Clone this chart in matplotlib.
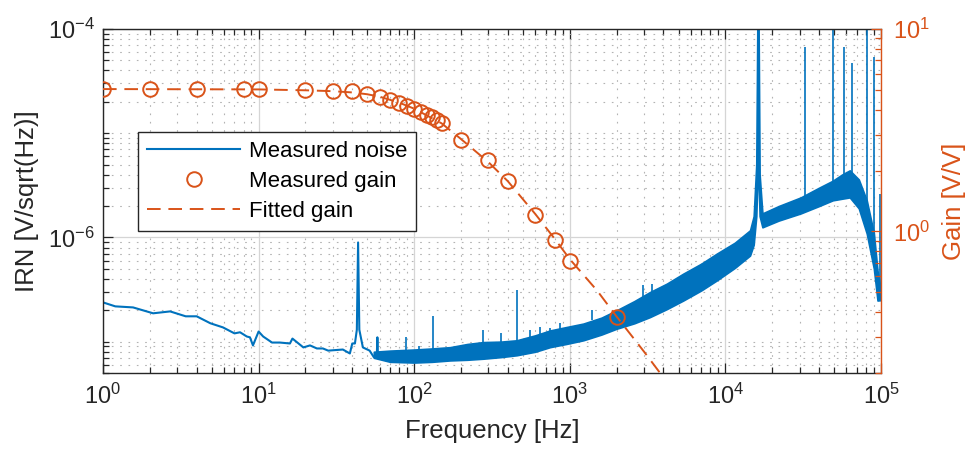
import numpy as np
import matplotlib
matplotlib.use("Agg")
import matplotlib.pyplot as plt
from matplotlib.ticker import LogLocator, NullFormatter

plt.rcParams['font.family'] = ['Liberation Sans', 'DejaVu Sans']
plt.rcParams['mathtext.fontset'] = 'custom'
plt.rcParams['mathtext.rm'] = 'Liberation Sans'
plt.rcParams['mathtext.it'] = 'Liberation Sans:italic'
plt.rcParams['mathtext.bf'] = 'Liberation Sans:bold'

# ---------------------------------------------------------------
# Data
# ---------------------------------------------------------------
# Measured noise, low frequency part (thin line)
noise_f = [1.0, 1.2, 1.56, 2.1, 2.7, 3.4, 4.0, 4.9, 5.9, 7.0, 7.6, 8.4, 8.8, 9.2, 10.0,
           10.7, 12.2, 13.7, 15.9, 16.5, 19.4, 21.4, 23.7, 25.9, 28.0, 34.8, 38.6, 40.0,
           41.6, 42.8, 43.6, 44.4, 46.8, 51.7, 55.0, 57.5, 58.0, 58.5, 63.0]
noise_v = [2.38e-7, 2.18e-7, 2.13e-7, 1.87e-7, 1.95e-7, 1.75e-7, 1.75e-7, 1.50e-7, 1.37e-7,
           1.20e-7, 1.23e-7, 1.12e-7, 1.10e-7, 9.2e-8, 1.25e-7, 1.12e-7, 9.8e-8, 9.8e-8,
           9.6e-8, 1.07e-7, 8.8e-8, 9.2e-8, 8.6e-8, 8.6e-8, 8.2e-8, 8.4e-8, 7.7e-8, 9.6e-8,
           9.6e-8, 1.3e-7, 8.95e-7, 1.3e-7, 8.8e-8, 8.2e-8, 7.1e-8, 7.4e-8, 1.1e-7, 7.4e-8, 7.4e-8]

# Measured noise, dense part (drawn as a band between low and high envelope)
band_f = [55, 70, 100, 130, 170, 220, 278, 360, 456, 600, 746, 950, 1222, 1600, 2000,
          2600, 3275, 4200, 5360, 7000, 8790, 11500, 14400, 15200, 15800, 16100, 16300,
          16600, 17300, 22000, 30500, 40000, 49000, 56000, 63000, 72000, 81000, 90000,
          95000, 100000]
band_lo = [7.0e-8, 6.4e-8, 6.3e-8, 6.4e-8, 6.6e-8, 6.7e-8, 6.86e-8, 7.1e-8, 7.4e-8,
           8.0e-8, 8.85e-8, 9.5e-8, 1.03e-7, 1.17e-7, 1.33e-7, 1.5e-7, 1.72e-7, 2.05e-7,
           2.48e-7, 3.1e-7, 3.86e-7, 5.1e-7, 6.7e-7, 8.5e-7, 1.6e-6, 4.0e-6, 4.0e-6,
           1.6e-6, 1.25e-6, 1.45e-6, 1.7e-6, 2.0e-6, 2.27e-6, 2.35e-6, 2.42e-6, 1.9e-6,
           1.09e-6, 5.0e-7, 2.48e-7, 2.5e-7]
band_hi = [8.0e-8, 8.2e-8, 8.4e-8, 8.6e-8, 8.85e-8, 9.5e-8, 9.9e-8, 1.0e-7, 1.03e-7,
           1.15e-7, 1.28e-7, 1.38e-7, 1.49e-7, 1.7e-7, 2.0e-7, 2.45e-7, 2.99e-7, 3.6e-7,
           4.49e-7, 5.6e-7, 6.98e-7, 8.9e-7, 1.17e-6, 1.6e-6, 5.0e-6, 2.0e-4, 2.0e-4,
           4.0e-6, 1.7e-6, 2.0e-6, 2.42e-6, 3.0e-6, 3.5e-6, 4.0e-6, 4.4e-6, 3.6e-6,
           2.27e-6, 1.1e-6, 4.8e-7, 3.1e-7]

# Narrow spikes on top of the band
spike_f = [88.7, 108, 132, 277, 360, 458, 555, 640, 750, 866, 1390, 2960, 3400,
           32300, 49400, 57800, 65000, 81800, 89700, 98000]
spike_base = [7.5e-8, 7.5e-8, 7.5e-8, 8.5e-8, 9.0e-8, 9.5e-8, 1.05e-7, 1.1e-7, 1.15e-7,
              1.2e-7, 1.6e-7, 2.1e-7, 2.3e-7, 2.0e-6, 2.8e-6, 3.2e-6, 3.3e-6, 1.6e-6,
              1.0e-6, 2.8e-7]
spike_top = [1.1e-7, 9.0e-8, 1.75e-7, 1.3e-7, 1.2e-7, 3.1e-7, 1.28e-7, 1.37e-7, 1.35e-7,
             1.5e-7, 2.0e-7, 3.46e-7, 3.6e-7, 6.7e-5, 2.0e-4, 6.7e-5, 4.7e-5, 2.0e-4,
             5.4e-5, 2.6e-6]

# Measured gain (circles)
gain_f = [1, 2, 4, 8, 10, 20, 30, 40, 50, 60, 70, 80, 90, 100, 110, 120, 130, 140, 150,
          200, 300, 400, 600, 800, 1000, 2000]
gain_v = [5.05, 5.05, 5.05, 5.05, 5.04, 5.0, 4.94, 4.92, 4.78, 4.62, 4.46, 4.31, 4.17,
          4.03, 3.89, 3.76, 3.66, 3.55, 3.43, 2.83, 2.26, 1.78, 1.2, 0.91, 0.715, 0.378]

# Fitted gain (dashed)
fit_f = [1, 10, 20, 30, 40, 50, 60, 80, 100, 150, 200, 300, 400, 600, 800, 1000,
         1500, 2000, 3000, 4000]
fit_v = [5.05, 5.03, 4.98, 4.93, 4.86, 4.76, 4.63, 4.33, 4.04, 3.42, 2.86, 2.2, 1.77,
         1.22, 0.92, 0.73, 0.51, 0.38, 0.255, 0.19]

blue = '#0072BD'
orange = '#D95319'

# ---------------------------------------------------------------
# Figure
# ---------------------------------------------------------------
fig = plt.figure(figsize=(9.68, 4.55), dpi=100)
ax = fig.add_axes([0.1064, 0.1802, 0.8037, 0.7561])
ax2 = ax.twinx()

# noise on the left axis
ax.plot(noise_f, noise_v, color=blue, lw=1.5, label='Measured noise')
ax.fill_between(band_f, band_lo, band_hi, color=blue, lw=1.2, edgecolor=blue)
ax.vlines(spike_f, spike_base, spike_top, color=blue, lw=1.2)

ax.set_xscale('log')
ax.set_yscale('log')
ax.set_xlim(1, 1e5)
ax.set_ylim(5e-8, 1e-4)
ax.set_xticks([1, 10, 100, 1e3, 1e4, 1e5])
ax.set_yticks([1e-6, 1e-4])
ax.xaxis.set_minor_locator(LogLocator(base=10, subs=np.arange(2, 10), numticks=50))
ax.yaxis.set_minor_locator(LogLocator(base=10, subs=np.arange(1, 10), numticks=50))
ax.xaxis.set_minor_formatter(NullFormatter())
ax.yaxis.set_minor_formatter(NullFormatter())
ax.tick_params(which='both', direction='in', top=True, right=False, labelsize=17,
               color='#262626', labelcolor='#262626')
ax.tick_params(which='major', length=7, width=0.9)
ax.tick_params(which='minor', length=4.5, width=0.9)
ax.tick_params(axis='y', pad=6)
ax.tick_params(axis='x', pad=8)

ax.grid(which='major', color='#d5d5d5', lw=0.9, ls='-')
ax.grid(which='minor', color='#b3b3b3', lw=0.8, ls=(0, (1.5, 6)))
ax.set_axisbelow(True)

for s in ['top', 'bottom', 'left']:
    ax.spines[s].set_linewidth(1.0)
    ax.spines[s].set_color('#262626')
ax.spines['right'].set_visible(False)

ax.set_xlabel('Frequency [Hz]', fontsize=18.5, color='#262626', labelpad=7)
ax.set_ylabel('IRN [V/sqrt(Hz)]', fontsize=18.5, color='#262626', labelpad=6)

# gain on the right axis
ax2.plot(gain_f, gain_v, ls='none', marker='o', ms=10.5, mfc='none', mec=orange,
         mew=1.4, label='Measured gain')
ax2.plot(fit_f, fit_v, color=orange, lw=1.4, ls='--', dashes=(7, 4), label='Fitted gain')
ax2.set_yscale('log')
ax2.set_ylim(0.2, 10)
ax2.set_yticks([1, 10])
ax2.yaxis.set_minor_locator(LogLocator(base=10, subs=np.arange(2, 10), numticks=50))
ax2.yaxis.set_minor_formatter(NullFormatter())
ax2.tick_params(which='both', direction='in', colors=orange, labelsize=17)
ax2.tick_params(which='major', length=7, width=0.9, pad=9)
ax2.tick_params(which='minor', length=4.5, width=0.9)
ax2.spines['right'].set_color(orange)
ax2.spines['right'].set_linewidth(1.0)
for s in ['top', 'bottom', 'left']:
    ax2.spines[s].set_visible(False)
ax2.set_ylabel('Gain [V/V]', fontsize=18.5, color=orange, labelpad=8)

# legend with entries from both axes
h1, l1 = ax.get_legend_handles_labels()
h2, l2 = ax2.get_legend_handles_labels()
leg = ax2.legend(h1 + h2, l1 + l2, loc='upper left', bbox_to_anchor=(0.045, 0.70),
                 fontsize=16, frameon=True, fancybox=False, framealpha=1,
                 edgecolor='#262626', handlelength=4.2, handletextpad=0.4,
                 labelspacing=0.4, borderpad=0.4, numpoints=1, borderaxespad=0)
leg.get_frame().set_linewidth(1.0)

fig.savefig('out.png', dpi=100)
